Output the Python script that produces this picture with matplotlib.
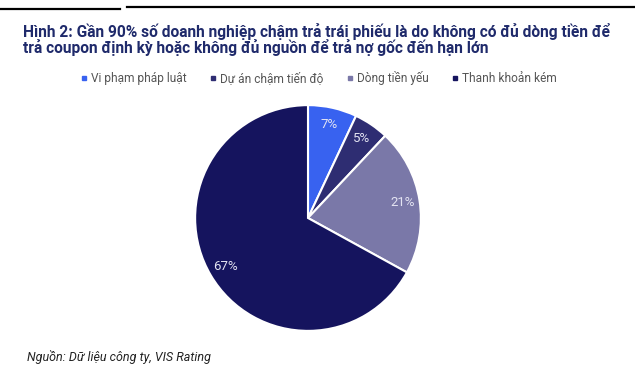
import matplotlib
matplotlib.use('Agg')
from matplotlib import pyplot as plt
from matplotlib.lines import Line2D

plt.rcParams['font.family'] = ['Roboto', 'DejaVu Sans']

labels = ['Vi phạm pháp luật', 'Dự án chậm tiến độ', 'Dòng tiền yếu', 'Thanh khoản kém']
values = [7, 5, 21, 67]
colors = ['#3862f0', '#2e2d72', '#7a78a8', '#15145e']

W, H = 635, 381
fig = plt.figure(figsize=(W/100, H/100), dpi=100)

# top rule lines
fig.add_artist(Line2D([0, 120/W], [1-8.5/H, 1-8.5/H], color='black', lw=1.6))
fig.add_artist(Line2D([127/W, 1], [1-6.5/H, 1-6.5/H], color='black', lw=1.6))

fig.text(23/W, 1-32/H, 'Hình 2: Gần 90% số doanh nghiệp chậm trả trái phiếu là do không có đủ dòng tiền để',
         fontsize=11.2, fontweight='bold', color='#1f2a6b', va='center', ha='left')
fig.text(23/W, 1-48/H, 'trả coupon định kỳ hoặc không đủ nguồn để trả nợ gốc đến hạn lớn',
         fontsize=11.2, fontweight='bold', color='#1f2a6b', va='center', ha='left')

cx, cy, r = 308, 218, 114
ax = fig.add_axes([(cx-r)/W, (H-cy-r)/H, 2*r/W, 2*r/H])
wedges, texts, autotexts = ax.pie(values, colors=colors, startangle=90, counterclock=False,
                                  autopct='%d%%', pctdistance=0.85,
                                  wedgeprops=dict(edgecolor='white', linewidth=1.5),
                                  textprops=dict(color='#e4e4f2', fontsize=9.5))
ax.set_xlim(-1.01, 1.01)
ax.set_ylim(-1.01, 1.01)
ax.axis('off')

handles = [Line2D([], [], marker='s', linestyle='none', markersize=3.5, color=c) for c in colors]
fig.legend(handles, labels, loc='center', bbox_to_anchor=(318/W, 1-78/H), ncol=4, frameon=False,
           fontsize=8.6, labelcolor='#555555', handletextpad=0.2, columnspacing=1.8, handlelength=0.8)

fig.text(27/W, 1-357/H, 'Nguồn: Dữ liệu công ty, VIS Rating', fontsize=9, style='italic',
         color='#222222', va='center', ha='left')

fig.savefig('out.png', dpi=100)
